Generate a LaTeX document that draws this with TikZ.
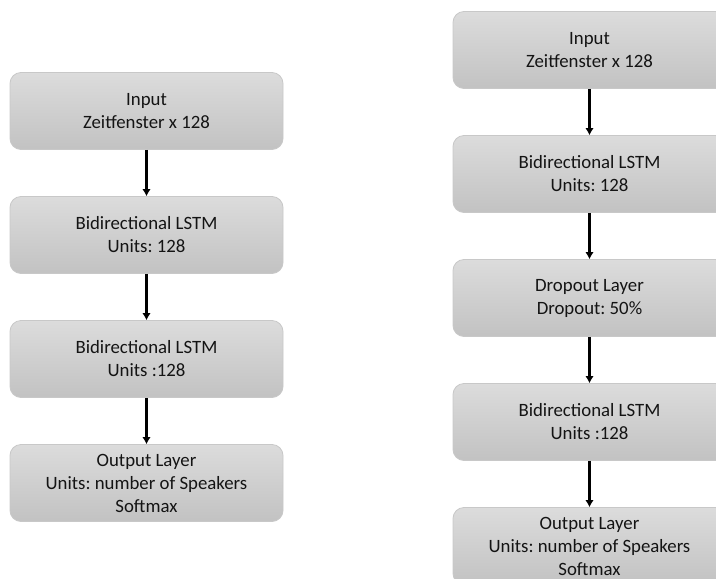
\documentclass[tikz,border=0pt]{standalone}
\usepackage{fontspec}
\setmainfont{Carlito}
\frenchspacing
\usetikzlibrary{arrows.meta}
\definecolor{boxtop}{HTML}{DCDCDC}
\definecolor{boxbot}{HTML}{C2C2C2}
\definecolor{boxline}{HTML}{C8C8C8}
\definecolor{txt}{HTML}{141414}
\tikzset{
  layer/.style={rounded corners=11pt, minimum width=273pt, minimum height=77pt,
    top color=boxtop, bottom color=boxbot, draw=boxline, line width=0.8pt,
    align=center, text=txt, font=\fontsize{18.8}{23}\selectfont, inner sep=0pt},
  flow/.style={draw=black, line width=2.1pt, -{Latex[length=7pt,width=8.5pt]}}
}
\begin{document}
\begin{tikzpicture}[x=1pt,y=-1pt]
  \useasboundingbox (0,0) rectangle (716,579);
  % left network
  \node[layer] (l1) at (146.5,111) {Input\\Zeitfenster x 128};
  \node[layer] (l2) at (146.5,235) {Bidirectional LSTM\\Units: 128};
  \node[layer] (l3) at (146.5,359) {Bidirectional LSTM\\Units :128};
  \node[layer] (l4) at (146.5,483) {Output Layer\\Units: number of Speakers\\Softmax};
  \draw[flow] (l1) -- (l2);
  \draw[flow] (l2) -- (l3);
  \draw[flow] (l3) -- (l4);
  % right network with dropout
  \node[layer] (r1) at (589.5,50) {Input\\Zeitfenster x 128};
  \node[layer] (r2) at (589.5,174) {Bidirectional LSTM\\Units: 128};
  \node[layer] (r3) at (589.5,298) {Dropout Layer\\Dropout: 50\%};
  \node[layer] (r4) at (589.5,422) {Bidirectional LSTM\\Units :128};
  \node[layer] (r5) at (589.5,546) {Output Layer\\Units: number of Speakers\\Softmax};
  \draw[flow] (r1) -- (r2);
  \draw[flow] (r2) -- (r3);
  \draw[flow] (r3) -- (r4);
  \draw[flow] (r4) -- (r5);
\end{tikzpicture}
\end{document}
